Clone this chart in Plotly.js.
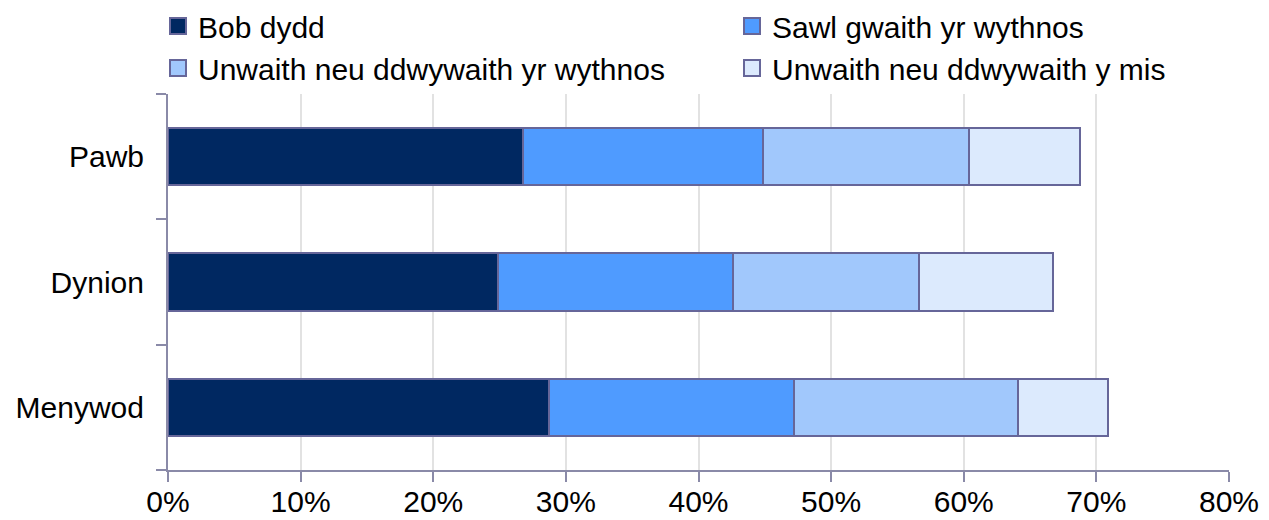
<!DOCTYPE html>
<html>
<head>
<meta charset="utf-8">
<script src="https://cdn.plot.ly/plotly-3.0.1.min.js"></script>
<style>html,body{margin:0;padding:0;background:#fff}#chart{width:1269px;height:520px}</style>
</head>
<body>
<div id="chart"></div>
<script>
const categories = ["Pawb", "Dynion", "Menywod"];
const seriesNames = ["Bob dydd", "Sawl gwaith yr wythnos", "Unwaith neu ddwywaith yr wythnos", "Unwaith neu ddwywaith y mis"];
const bobDydd = [0.268, 0.249, 0.287];
const sawlGwaith = [0.181, 0.177, 0.185];
const unwaithWythnos = [0.155, 0.140, 0.169];
const unwaithMis = [0.084, 0.101, 0.068];
const tickVals = [0, 0.1, 0.2, 0.3, 0.4, 0.5, 0.6, 0.7, 0.8];

const colors = ["#002861", "#4f9bff", "#a1c8fc", "#dceafd"];
const seriesValues = [bobDydd, sawlGwaith, unwaithWythnos, unwaithMis];
const legendOf = ["legend", "legend2", "legend", "legend2"];

const traces = seriesValues.map((vals, i) => ({
  type: "bar",
  orientation: "h",
  name: seriesNames[i],
  y: categories,
  x: vals,
  showlegend: false,
  legendgroup: "g" + i,
  marker: {color: colors[i], line: {color: "#666699", width: 2}},
  hoverinfo: "x+name"
}));

// legend-only entries with larger square symbols
const legendTraces = seriesNames.map((nm, i) => ({
  type: "scatter",
  mode: "markers",
  name: nm,
  x: [null],
  y: [null],
  legend: legendOf[i],
  legendgroup: "g" + i,
  showlegend: true,
  marker: {symbol: "square", size: 16, color: colors[i], line: {color: "#666699", width: 2}},
  hoverinfo: "skip"
}));

const legendBase = {
  orientation: "v",
  yref: "container", y: 1.0, yanchor: "top",
  xref: "paper", xanchor: "left",
  traceorder: "normal",
  tracegroupgap: 4,
  itemsizing: "trace",
  font: {size: 30, family: "Liberation Sans, Arial, sans-serif", color: "#000"},
  itemwidth: 30,
  bgcolor: "rgba(0,0,0,0)",
  borderwidth: 0
};

const layout = {
  width: 1269, height: 520,
  margin: {l: 168, r: 40, t: 94, b: 50},
  barmode: "stack",
  bargap: 0.54,
  paper_bgcolor: "#ffffff",
  plot_bgcolor: "#ffffff",
  font: {family: "Liberation Sans, Arial, sans-serif", size: 30, color: "#000"},
  xaxis: {
    range: [0, 0.8],
    tickvals: tickVals,
    tickformat: ".0%",
    showgrid: true, gridcolor: "#e2e2e2", gridwidth: 2,
    showline: true, linecolor: "#8a8aa8", linewidth: 2,
    ticks: "outside", ticklen: 10, tickcolor: "#8a8aa8", tickwidth: 2,
    ticklabelstandoff: -6,
    zeroline: false,
    automargin: false,
    tickfont: {size: 30}
  },
  yaxis: {
    type: "category",
    categoryorder: "array",
    categoryarray: categories.slice().reverse(),
    showline: true, linecolor: "#8a8aa8", linewidth: 2,
    ticks: "outside", ticklen: 10, tickcolor: "#8a8aa8", tickwidth: 2,
    tickson: "boundaries",
    ticklabelstandoff: 16,
    showgrid: false,
    automargin: false,
    tickfont: {size: 30}
  },
  legend: Object.assign({}, legendBase, {x: (158 - 168) / 1061}),
  legend2: Object.assign({}, legendBase, {x: (732 - 168) / 1061}),
  showlegend: true
};
Plotly.newPlot("chart", traces.concat(legendTraces), layout, {displayModeBar: false, staticPlot: true});
</script>
</body>
</html>
